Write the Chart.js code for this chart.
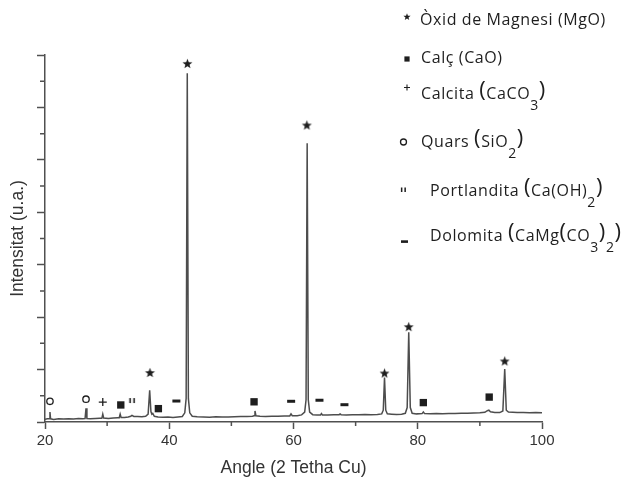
<!DOCTYPE html>
<html>
<head>
<meta charset="utf-8">
<script src="https://cdn.jsdelivr.net/npm/chart.js@4/dist/chart.umd.min.js"></script>
<style>
  html, body { margin: 0; padding: 0; background: #fff; }
  #wrap { width: 626px; height: 480px; }
</style>
</head>
<body>
<div id="wrap"><canvas id="xrd" width="626" height="480"></canvas></div>
<script>
// Diffraction pattern: 2-theta angle (degrees) and intensity (arbitrary units)
const angle = [
  20.0, 20.4, 20.7, 20.8, 20.9, 21.4, 22.2, 23.0, 23.8, 24.6, 25.4, 26.1, 26.45, 26.6, 26.75,
  27.3, 28.1, 28.8, 29.15, 29.3, 29.45, 30.2, 31.0, 31.7, 31.95, 32.1, 32.25, 32.8, 33.4, 33.8,
  34.0, 34.3, 34.9, 35.6, 36.2, 36.6, 36.85, 37.05, 37.2, 37.35, 37.6, 38.2, 39.0, 39.8, 40.6,
  41.4, 42.1, 42.5, 42.72, 42.9, 43.08, 43.3, 43.7, 44.5, 45.5, 46.5, 47.5, 48.5, 49.5, 50.5,
  51.5, 52.5, 53.4, 53.65, 53.8, 53.95, 54.6, 55.5, 56.5, 57.5, 58.5, 59.4, 59.6, 59.8, 60.6,
  61.3, 61.8, 62.02, 62.2, 62.38, 62.6, 63.1, 63.8, 64.35, 64.5, 64.65, 65.5, 66.5, 67.35, 67.5,
  67.65, 68.5, 69.5, 70.5, 71.5, 72.5, 73.5, 74.2, 74.45, 74.65, 74.85, 75.1, 75.8, 76.6, 77.4,
  78.0, 78.3, 78.55, 78.8, 79.1, 79.8, 80.7, 80.9, 81.1, 82.0, 83.0, 84.0, 85.0, 86.0, 87.0,
  88.0, 89.0, 90.0, 90.8, 91.2, 91.45, 91.7, 92.4, 93.2, 93.7, 94.0, 94.25, 94.6, 95.3, 96.0,
  97.0, 98.0, 99.0, 100.0
];
const intensity = [
  0.10, 0.12, 0.12, 0.38, 0.12, 0.10, 0.12, 0.11, 0.12, 0.11, 0.13, 0.12, 0.13, 0.52, 0.13,
  0.12, 0.13, 0.14, 0.14, 0.30, 0.15, 0.13, 0.15, 0.16, 0.16, 0.30, 0.17, 0.17, 0.19, 0.22,
  0.25, 0.21, 0.21, 0.20, 0.22, 0.30, 1.21, 0.40, 0.30, 0.33, 0.22, 0.19, 0.18, 0.19, 0.17,
  0.19, 0.21, 0.35, 0.90, 13.30, 0.90, 0.35, 0.22, 0.20, 0.19, 0.18, 0.20, 0.19, 0.19, 0.20,
  0.21, 0.21, 0.22, 0.24, 0.42, 0.24, 0.22, 0.21, 0.22, 0.22, 0.23, 0.23, 0.31, 0.24, 0.24,
  0.27, 0.38, 0.85, 10.63, 0.85, 0.38, 0.28, 0.27, 0.27, 0.32, 0.27, 0.27, 0.28, 0.28, 0.31,
  0.28, 0.27, 0.28, 0.28, 0.29, 0.28, 0.29, 0.31, 0.45, 1.70, 0.45, 0.31, 0.30, 0.29, 0.30,
  0.33, 0.55, 3.42, 0.55, 0.33, 0.31, 0.32, 0.38, 0.32, 0.31, 0.32, 0.31, 0.32, 0.32, 0.33,
  0.33, 0.34, 0.35, 0.37, 0.43, 0.45, 0.39, 0.36, 0.36, 0.42, 2.02, 0.45, 0.38, 0.37, 0.36,
  0.36, 0.35, 0.36, 0.35
];

// Phase identification marks (angle, height of the mark)
const mgoAngle = [36.9, 42.92, 62.15, 74.65, 78.55, 94.0];
const mgoLevel = [1.89, 13.68, 11.33, 1.87, 3.64, 2.33];
const caoAngle = [32.2, 38.25, 53.65, 80.9, 91.5];
const caoLevel = [0.65, 0.51, 0.77, 0.74, 0.95];
const calciteAngle = [29.3];
const calciteLevel = [0.76];
const quartzAngle = [20.8, 26.6];
const quartzLevel = [0.79, 0.87];
const portlanditeAngle = [34.05];
const portlanditeLevel = [0.8];
const dolomiteAngle = [41.15, 59.62, 64.18, 68.2];
const dolomiteLevel = [0.8, 0.79, 0.83, 0.66];

// Axis ticks
const xTickValues = [20, 40, 60, 80, 100];
const xTickLabels = ['20', '40', '60', '80', '100'];
const xMinorTicks = [30, 50, 70, 90];
const yTickValues = [0, 2, 4, 6, 8, 10, 12, 14];
const yMinorTicks = [1, 3, 5, 7, 9, 11, 13];

// Phase legend: [text, kind] where kind n = normal, b = large bracket, s = subscript
const phaseLabels = [
  [['Òxid de Magnesi (MgO)', 'n']],
  [['Calç (CaO)', 'n']],
  [['Calcita ', 'n'], ['(', 'b'], ['CaCO', 'n'], ['3', 's'], [')', 'b']],
  [['Quars ', 'n'], ['(', 'b'], ['SiO', 'n'], ['2', 's'], [')', 'b']],
  [['Portlandita ', 'n'], ['(', 'b'], ['Ca(OH)', 'n'], ['2', 's'], [')', 'b']],
  [['Dolomita ', 'n'], ['(', 'b'], ['CaMg', 'n'], ['(', 'b'], ['CO', 'n'], ['3', 's'], [')', 'b'], ['2', 's'], [')', 'b']]
];

const INK = '#1e1e1e';
const AXIS = '#505050';

function pairs(xs, ys) { return xs.map((x, i) => ({ x: x, y: ys[i] })); }

function starPath(ctx, cx, cy, r) {
  ctx.beginPath();
  for (let i = 0; i < 10; i++) {
    const a = -Math.PI / 2 + i * Math.PI / 5;
    const rr = i % 2 ? r * 0.42 : r;
    ctx.lineTo(cx + rr * Math.cos(a), cy + rr * Math.sin(a));
  }
  ctx.closePath();
}

function starImage(r) {
  const s = Math.ceil(r * 2 + 2);
  const c = document.createElement('canvas');
  c.width = s; c.height = s;
  const g = c.getContext('2d');
  g.fillStyle = INK;
  starPath(g, s / 2, s / 2 + 0.5, r);
  g.fill();
  return c;
}

function quoteImage() {
  const c = document.createElement('canvas');
  c.width = 9; c.height = 8;
  const g = c.getContext('2d');
  g.fillStyle = INK;
  g.fillRect(1.5, 1, 1.6, 5);
  g.fillRect(5.5, 1, 1.6, 5);
  return c;
}

const starMark = starImage(5.2);
const quoteMark = quoteImage();

// Small symbols in front of the phase names
function drawLegendSymbol(ctx, i, x, y) {
  ctx.save();
  ctx.fillStyle = INK;
  ctx.strokeStyle = INK;
  if (i === 0) { starPath(ctx, x, y, 3.8); ctx.fill(); }
  else if (i === 1) { ctx.fillRect(x - 2.6, y - 2.6, 5.2, 5.2); }
  else if (i === 2) {
    ctx.lineWidth = 1.1;
    ctx.beginPath();
    ctx.moveTo(x - 3, y); ctx.lineTo(x + 3, y);
    ctx.moveTo(x, y - 3); ctx.lineTo(x, y + 3);
    ctx.stroke();
  }
  else if (i === 3) { ctx.lineWidth = 1.3; ctx.beginPath(); ctx.arc(x, y, 3, 0, Math.PI * 2); ctx.stroke(); }
  else if (i === 4) { ctx.fillRect(x - 2.6, y - 2.5, 1.5, 4.5); ctx.fillRect(x + 0.9, y - 2.5, 1.5, 4.5); }
  else if (i === 5) { ctx.fillRect(x - 3.5, y - 1.2, 7, 2.6); }
  ctx.restore();
}

const legendLayout = {
  baselines: [25, 63, 99, 147, 196, 241],
  textX: [420, 421, 421, 421, 430, 430],
  symbol: [[407, 17], [407, 59], [407, 87.5], [403.5, 142], [403.5, 190], [404.5, 241.5]]
};

const phaseLegend = {
  id: 'phaseLegend',
  afterDraw(chart) {
    const ctx = chart.ctx;
    ctx.save();
    ctx.fillStyle = INK;
    ctx.textBaseline = 'alphabetic';
    ctx.textAlign = 'left';
    if ('letterSpacing' in ctx) ctx.letterSpacing = '0.6px';
    phaseLabels.forEach((parts, i) => {
      const [sx, sy] = legendLayout.symbol[i];
      drawLegendSymbol(ctx, i, sx, sy);
      let x = legendLayout.textX[i];
      const base = legendLayout.baselines[i];
      parts.forEach(([txt, kind]) => {
        let size = 16, dy = 0;
        if (kind === 'b') { size = 22; dy = -2.5; }
        if (kind === 's') { size = 14; dy = 10.5; }
        ctx.font = size + 'px "Open Sans", sans-serif';
        ctx.fillText(txt, x, base + dy);
        x += ctx.measureText(txt).width;
      });
    });
    ctx.restore();
  }
};

// Short intermediate tick marks on both axes
const minorTicks = {
  id: 'minorTicks',
  afterDraw(chart) {
    const ctx = chart.ctx;
    const xs = chart.scales.x, ys = chart.scales.y;
    const area = chart.chartArea;
    ctx.save();
    ctx.strokeStyle = AXIS;
    ctx.lineWidth = 1.5;
    ctx.beginPath();
    xMinorTicks.forEach(v => {
      const px = xs.getPixelForValue(v);
      ctx.moveTo(px, area.bottom); ctx.lineTo(px, area.bottom + 4);
    });
    yMinorTicks.forEach(v => {
      const py = ys.getPixelForValue(v);
      ctx.moveTo(area.left, py); ctx.lineTo(area.left - 5, py);
    });
    ctx.stroke();
    ctx.restore();
  }
};

new Chart(document.getElementById('xrd'), {
  type: 'scatter',
  data: {
    datasets: [
      {
        label: 'Difractograma',
        data: pairs(angle, intensity),
        showLine: true,
        borderColor: '#4d4d4d',
        borderWidth: 1.5,
        pointRadius: 0,
        tension: 0,
        order: 2
      },
      {
        label: 'MgO',
        data: pairs(mgoAngle, mgoLevel),
        pointStyle: starMark,
        order: 1
      },
      {
        label: 'CaO',
        data: pairs(caoAngle, caoLevel),
        pointStyle: 'rect',
        pointRadius: 5.2,
        backgroundColor: INK,
        borderWidth: 0,
        order: 1
      },
      {
        label: 'CaCO3',
        data: pairs(calciteAngle, calciteLevel),
        pointStyle: 'cross',
        pointRadius: 4,
        borderColor: INK,
        borderWidth: 1.3,
        order: 1
      },
      {
        label: 'SiO2',
        data: pairs(quartzAngle, quartzLevel),
        pointStyle: 'circle',
        pointRadius: 3.2,
        backgroundColor: 'rgba(0,0,0,0)',
        borderColor: INK,
        borderWidth: 1.3,
        order: 1
      },
      {
        label: 'Ca(OH)2',
        data: pairs(portlanditeAngle, portlanditeLevel),
        pointStyle: quoteMark,
        order: 1
      },
      {
        label: 'CaMg(CO3)2',
        data: pairs(dolomiteAngle, dolomiteLevel),
        pointStyle: 'line',
        pointRadius: 4,
        borderColor: INK,
        borderWidth: 3,
        order: 1
      }
    ]
  },
  options: {
    responsive: false,
    devicePixelRatio: 1,
    animation: false,
    events: [],
    layout: { padding: { left: 0, top: 55, right: 84, bottom: 0 } },
    plugins: {
      legend: { display: false },
      tooltip: { enabled: false }
    },
    scales: {
      x: {
        type: 'linear',
        min: 20,
        max: 100,
        afterBuildTicks(scale) { scale.ticks = xTickValues.map(v => ({ value: v })); },
        afterFit(scale) { scale.height = 58; },
        grid: { display: true, drawOnChartArea: false, drawTicks: true, tickLength: 7, tickColor: AXIS, tickWidth: 1.5 },
        border: { display: true, color: AXIS, width: 1.5 },
        ticks: {
          padding: 3,
          color: '#333',
          font: { family: '"Liberation Sans", Arial, sans-serif', size: 15 },
          maxRotation: 0,
          callback(v) { const i = xTickValues.indexOf(v); return i >= 0 ? xTickLabels[i] : ''; }
        },
        title: {
          display: true,
          text: 'Angle (2 Tetha Cu)',
          color: '#333',
          font: { family: '"Liberation Sans", Arial, sans-serif', size: 17.5 },
          padding: { top: 0, bottom: 1 }
        }
      },
      y: {
        type: 'linear',
        min: 0,
        max: 14,
        afterBuildTicks(scale) { scale.ticks = yTickValues.map(v => ({ value: v })); },
        afterFit(scale) { scale.width = 45; },
        grid: { display: true, drawOnChartArea: false, drawTicks: true, tickLength: 8, tickColor: AXIS, tickWidth: 1.5 },
        border: { display: true, color: AXIS, width: 1.5 },
        ticks: { display: false },
        title: {
          display: true,
          text: 'Intensitat (u.a.)',
          color: '#333',
          font: { family: '"Liberation Sans", Arial, sans-serif', size: 17.5 },
          padding: { top: 8, bottom: 0 }
        }
      }
    }
  },
  plugins: [minorTicks, phaseLegend]
});
</script>
</body>
</html>
